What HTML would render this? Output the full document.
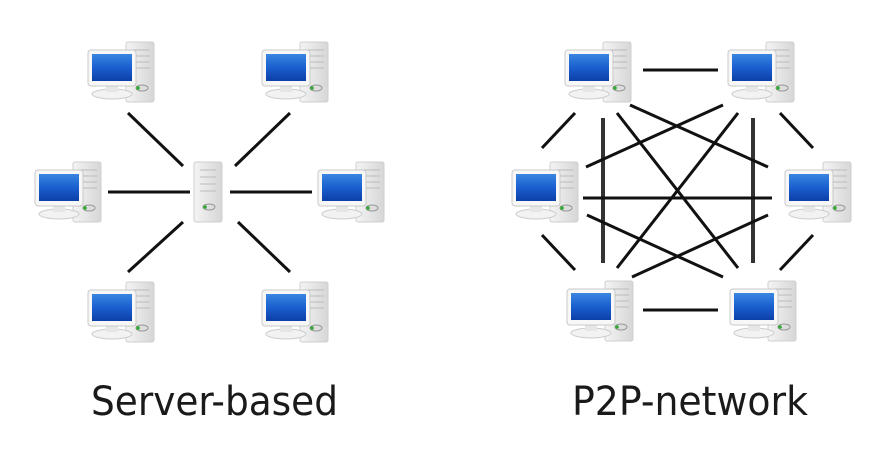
<!DOCTYPE html>
<html><head><meta charset="utf-8"><style>html,body{margin:0;padding:0;background:#fff}svg{display:block}</style></head>
<body>
<svg width="877" height="465" viewBox="0 0 877 465" xmlns="http://www.w3.org/2000/svg">
<defs>
<linearGradient id="scr" x1="0" y1="0" x2="0" y2="1">
<stop offset="0" stop-color="#3a86e0"/><stop offset="0.5" stop-color="#1a5fcf"/><stop offset="1" stop-color="#0d3fa8"/></linearGradient>
<linearGradient id="tw" x1="0" y1="0" x2="1" y2="0">
<stop offset="0" stop-color="#f4f4f4"/><stop offset="1" stop-color="#d6d6d6"/></linearGradient>
<g id="pc">
<rect x="38" y="0" width="28" height="60" rx="2" fill="url(#tw)" stroke="#cfcfcf"/>
<line x1="44" y1="8" x2="62" y2="8" stroke="#bbb"/><line x1="44" y1="14" x2="62" y2="14" stroke="#bbb"/>
<line x1="44" y1="20" x2="62" y2="20" stroke="#bbb"/><line x1="44" y1="26" x2="62" y2="26" stroke="#bbb"/>
<ellipse cx="54" cy="46" rx="6" ry="3" fill="#ddd" stroke="#999"/><circle cx="50" cy="46" r="1.8" fill="#3a3"/>
<ellipse cx="24" cy="52" rx="20" ry="5" fill="#f2f2f2" stroke="#ccc"/>
<rect x="18" y="42" width="12" height="8" fill="#e6e6e6"/>
<rect x="0" y="8" width="48" height="36" rx="3" fill="#f7f7f7" stroke="#c8c8c8"/>
<rect x="4" y="12" width="40" height="27" fill="url(#scr)"/>
</g>
<g id="srv">
<rect x="0" y="0" width="28" height="60" rx="2" fill="url(#tw)" stroke="#cfcfcf"/>
<line x1="6" y1="8" x2="22" y2="8" stroke="#bbb"/><line x1="6" y1="15" x2="22" y2="15" stroke="#bbb"/>
<line x1="6" y1="22" x2="22" y2="22" stroke="#bbb"/><line x1="6" y1="29" x2="22" y2="29" stroke="#bbb"/>
<ellipse cx="15" cy="45" rx="6" ry="3" fill="#ddd" stroke="#999"/><circle cx="11" cy="45" r="1.8" fill="#3a3"/>
</g>
</defs>
<g stroke="#111" stroke-width="3" stroke-linecap="butt">
<line x1="128" y1="113" x2="183" y2="166"/><line x1="290" y1="113" x2="235" y2="166"/>
<line x1="108" y1="192" x2="190" y2="192"/><line x1="230" y1="192" x2="312" y2="192"/>
<line x1="128" y1="272" x2="183" y2="222"/><line x1="290" y1="272" x2="238" y2="222"/>

<line x1="643" y1="70" x2="718" y2="70"/><line x1="643" y1="310" x2="718" y2="310"/>
<line x1="575" y1="113" x2="542" y2="148"/><line x1="780" y1="113" x2="813" y2="148"/>
<line x1="542" y1="235" x2="575" y2="270"/><line x1="813" y1="235" x2="780" y2="270"/>
<line x1="603" y1="118" x2="603" y2="263" stroke="#333" stroke-width="4"/>
<line x1="753" y1="118" x2="753" y2="263" stroke="#333" stroke-width="4"/>
<line x1="583" y1="198" x2="772" y2="198"/>
<line x1="630" y1="105" x2="768" y2="167"/><line x1="723" y1="105" x2="586" y2="167"/>
<line x1="617" y1="113" x2="738" y2="268"/><line x1="738" y1="113" x2="617" y2="268"/>
<line x1="587" y1="215" x2="723" y2="277"/><line x1="768" y1="215" x2="632" y2="277"/>
</g>
<use href="#pc" x="88" y="42"/><use href="#pc" x="262" y="42"/>
<use href="#pc" x="35" y="162"/><use href="#pc" x="318" y="162"/>
<use href="#pc" x="88" y="282"/><use href="#pc" x="262" y="282"/>
<use href="#srv" x="194" y="162"/>
<use href="#pc" x="565" y="42"/><use href="#pc" x="728" y="42"/>
<use href="#pc" x="512" y="162"/><use href="#pc" x="785" y="162"/>
<use href="#pc" x="567" y="281"/><use href="#pc" x="730" y="281"/>
<g font-family="DejaVu Sans, sans-serif" font-size="40" fill="#1a1a1a">
<text x="91" y="415" textLength="247" lengthAdjust="spacingAndGlyphs">Server-based</text>
<text x="572" y="415" textLength="236" lengthAdjust="spacingAndGlyphs">P2P-network</text>
</g>
</svg>
</body></html>
